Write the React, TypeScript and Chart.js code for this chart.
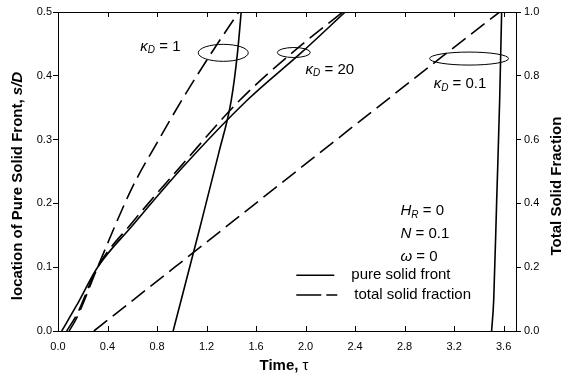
import React, { useEffect, useRef } from "react";
import { Chart, registerables } from "chart.js";
Chart.register(...registerables);

// ---- tick values ----
const xTickValues = [0, 0.4, 0.8, 1.2, 1.6, 2.0, 2.4, 2.8, 3.2, 3.6];
const yLeftTickValues = [0, 0.1, 0.2, 0.3, 0.4, 0.5];
const yRightTickValues = [0, 0.2, 0.4, 0.6, 0.8, 1.0];

// ---- κD = 0.1 ----
const tauSolidK01 = [3.503, 3.52, 3.544, 3.568, 3.584];
const sSolidK01 = [0, 0.049, 0.205, 0.362, 0.5];
const tauFracK01 = [0.29, 1.27, 2.25, 3.1, 3.568];
const fFracK01 = [0, 0.3, 0.6, 0.859, 1.0];

// ---- κD = 1 ----
const tauSolidK1 = [0.93, 1.141, 1.3, 1.4, 1.45, 1.48];
const sSolidK1 = [0, 0.158, 0.28, 0.362, 0.436, 0.5];
const tauFracK1 = [0.09, 0.15, 0.32, 0.6, 0.8, 1.01, 1.22, 1.46];
const fFracK1 = [0, 0.04, 0.2, 0.45, 0.59, 0.73, 0.86, 1.0];

// ---- κD = 20 ----
const tauSolidK20 = [0.03, 0.15, 0.32, 0.6, 1.0, 1.53, 1.97, 2.32];
const sSolidK20 = [0, 0.04, 0.1, 0.165, 0.255, 0.362, 0.437, 0.5];
const tauFracK20 = [0.07, 0.15, 0.32, 0.6, 1.0, 1.47, 1.9, 2.3];
const fFracK20 = [0, 0.05, 0.2, 0.34, 0.52, 0.724, 0.875, 1.0];

const FONT = '"Liberation Sans", Arial, Helvetica, sans-serif';

type Part = { t: string; f: string; dy?: number };

function richWidth(ctx: CanvasRenderingContext2D, parts: Part[]) {
  let w = 0;
  for (const p of parts) {
    ctx.font = p.f;
    w += ctx.measureText(p.t).width;
  }
  return w;
}
function drawRich(ctx: CanvasRenderingContext2D, x: number, y: number, parts: Part[]) {
  let cx = x;
  ctx.textBaseline = "middle";
  ctx.textAlign = "left";
  for (const p of parts) {
    ctx.font = p.f;
    ctx.fillText(p.t, cx, y + (p.dy || 0));
    cx += ctx.measureText(p.t).width;
  }
}

const kappaLabel = (val: string): Part[] => [
  { t: "κ", f: `italic 15px ${FONT}` },
  { t: "D", f: `italic 10px ${FONT}`, dy: 4 },
  { t: " = " + val, f: `15px ${FONT}` },
];

// annotation positions (data coords: tau, s on left axis)
const ellipses = [
  { tau: 1.335, s: 0.436, rx: 25, ry: 8.5 },
  { tau: 1.905, s: 0.4365, rx: 16.5, ry: 5 },
  { tau: 3.321, s: 0.427, rx: 39.5, ry: 6.5 },
];
const kappaLabels = [
  { tau: 0.665, s: 0.446, val: "1" },
  { tau: 2.0, s: 0.41, val: "20" },
  { tau: 3.035, s: 0.387, val: "0.1" },
];

const decor = {
  id: "decor",
  afterDraw(chart: any) {
    const { ctx, chartArea: a, scales } = chart;
    const xs = scales.x;
    const ys = scales.y;
    ctx.save();
    ctx.strokeStyle = "#000";
    ctx.fillStyle = "#000";
    ctx.lineWidth = 1;
    // frame
    ctx.strokeRect(Math.round(a.left) + 0.5, Math.round(a.top) + 0.5, Math.round(a.right - a.left), Math.round(a.bottom - a.top));
    // inward x ticks top and bottom
    ctx.beginPath();
    for (const v of xTickValues) {
      const px = Math.round(xs.getPixelForValue(v)) + 0.5;
      ctx.moveTo(px, a.bottom);
      ctx.lineTo(px, a.bottom - 5);
      ctx.moveTo(px, a.top);
      ctx.lineTo(px, a.top + 5);
    }
    ctx.stroke();
    // ellipses
    for (const e of ellipses) {
      ctx.beginPath();
      ctx.ellipse(xs.getPixelForValue(e.tau), ys.getPixelForValue(e.s), e.rx, e.ry, 0, 0, Math.PI * 2);
      ctx.stroke();
    }
    // kappa labels
    for (const k of kappaLabels) {
      drawRich(ctx, xs.getPixelForValue(k.tau), ys.getPixelForValue(k.s), kappaLabel(k.val));
    }
    // parameters
    const px0 = xs.getPixelForValue(2.767);
    drawRich(ctx, px0, ys.getPixelForValue(0.188), [
      { t: "H", f: `italic 15px ${FONT}` },
      { t: "R", f: `italic 10px ${FONT}`, dy: 4 },
      { t: " = 0", f: `15px ${FONT}` },
    ]);
    drawRich(ctx, px0, ys.getPixelForValue(0.152), [
      { t: "N", f: `italic 15px ${FONT}` },
      { t: " = 0.1", f: `15px ${FONT}` },
    ]);
    drawRich(ctx, px0, ys.getPixelForValue(0.116), [
      { t: "ω", f: `italic 15px ${FONT}` },
      { t: " = 0", f: `15px ${FONT}` },
    ]);
    // legend
    const lx = xs.getPixelForValue(1.925);
    const ly1 = ys.getPixelForValue(0.0875);
    const ly2 = ys.getPixelForValue(0.0565);
    ctx.lineWidth = 1.5;
    ctx.beginPath();
    ctx.moveTo(lx, ly1);
    ctx.lineTo(lx + 38, ly1);
    ctx.stroke();
    ctx.setLineDash([25, 5]);
    ctx.beginPath();
    ctx.moveTo(lx, ly2);
    ctx.lineTo(lx + 41, ly2);
    ctx.stroke();
    ctx.setLineDash([]);
    drawRich(ctx, lx + 55, ly1, [{ t: "pure solid front", f: `15px ${FONT}` }]);
    drawRich(ctx, lx + 58, ly2, [{ t: "total solid fraction", f: `15px ${FONT}` }]);

    // axis titles
    const midY = 186;
    const leftParts: Part[] = [
      { t: "location of Pure Solid Front, ", f: `bold 15px ${FONT}` },
      { t: "s/D", f: `italic bold 15px ${FONT}` },
    ];
    ctx.save();
    ctx.translate(18, midY);
    ctx.rotate(-Math.PI / 2);
    drawRich(ctx, -richWidth(ctx, leftParts) / 2, 0, leftParts);
    ctx.restore();

    const rightParts: Part[] = [{ t: "Total Solid Fraction", f: `bold 15px ${FONT}` }];
    ctx.save();
    ctx.translate(557, midY);
    ctx.rotate(-Math.PI / 2);
    drawRich(ctx, -richWidth(ctx, rightParts) / 2, 0, rightParts);
    ctx.restore();

    const botParts: Part[] = [
      { t: "Time, ", f: `bold 15px ${FONT}` },
      { t: "τ", f: `15px ${FONT}` },
    ];
    const cx = (a.left + a.right) / 2 - 3;
    drawRich(ctx, cx - richWidth(ctx, botParts) / 2, 366, botParts);
    ctx.restore();
  },
};

function series(tau: number[], vals: number[], axis: string, dashed: boolean) {
  return {
    data: tau.map((t, i) => ({ x: t, y: vals[i] })),
    yAxisID: axis,
    borderColor: "#000",
    backgroundColor: "#000",
    borderWidth: 1.6,
    borderDash: dashed ? [17, 7] : [],
    pointRadius: 0,
    showLine: true,
    fill: false,
    cubicInterpolationMode: "monotone" as const,
  };
}

export default function App() {
  const ref = useRef<HTMLCanvasElement>(null);
  useEffect(() => {
    if (!ref.current) return;
    const tickFont = { family: FONT, size: 11 };
    const chart = new Chart(ref.current, {
      type: "scatter",
      data: {
        datasets: [
          series(tauSolidK01, sSolidK01, "y", false),
          series(tauFracK01, fFracK01, "y2", true),
          series(tauSolidK1, sSolidK1, "y", false),
          series(tauFracK1, fFracK1, "y2", true),
          series(tauSolidK20, sSolidK20, "y", false),
          series(tauFracK20, fFracK20, "y2", true),
        ] as any,
      },
      options: {
        animation: false,
        responsive: false,
        maintainAspectRatio: false,
        devicePixelRatio: 1,
        layout: { padding: { top: 12, left: 0, right: 0, bottom: 0 } },
        plugins: { legend: { display: false }, tooltip: { enabled: false } },
        scales: {
          x: {
            type: "linear",
            position: "bottom",
            min: 0,
            max: 3.7,
            afterBuildTicks: (s: any) => {
              s.ticks = xTickValues.map((v) => ({ value: v }));
            },
            afterFit: (s: any) => {
              s.height = 47;
            },
            grid: { display: false, drawTicks: false },
            border: { display: false },
            ticks: {
              padding: 9,
              color: "#000",
              font: tickFont,
              maxRotation: 0,
              autoSkip: false,
              callback: (v: any) => Number(v).toFixed(1),
            },
          },
          y: {
            type: "linear",
            position: "left",
            min: 0,
            max: 0.5,
            afterBuildTicks: (s: any) => {
              s.ticks = yLeftTickValues.map((v) => ({ value: v }));
            },
            afterFit: (s: any) => {
              s.width = 58;
            },
            grid: { drawOnChartArea: false, drawTicks: true, tickLength: 5, color: "#000", lineWidth: 1 },
            border: { display: false },
            ticks: { padding: 1, color: "#000", font: tickFont, callback: (v: any) => Number(v).toFixed(1) },
          },
          y2: {
            type: "linear",
            position: "right",
            min: 0,
            max: 1,
            afterBuildTicks: (s: any) => {
              s.ticks = yRightTickValues.map((v) => ({ value: v }));
            },
            afterFit: (s: any) => {
              s.width = 52;
            },
            grid: { drawOnChartArea: false, drawTicks: true, tickLength: 5, color: "#000", lineWidth: 1 },
            border: { display: false },
            ticks: { padding: 3, color: "#000", font: tickFont, callback: (v: any) => Number(v).toFixed(1) },
          },
        },
      } as any,
      plugins: [decor],
    });
    return () => chart.destroy();
  }, []);
  return (
    <div style={{ position: "fixed", left: 0, top: 0, width: 568, height: 378, background: "#fff" }}>
      <canvas ref={ref} width={568} height={378} style={{ display: "block", width: 568, height: 378 }} />
    </div>
  );
}
